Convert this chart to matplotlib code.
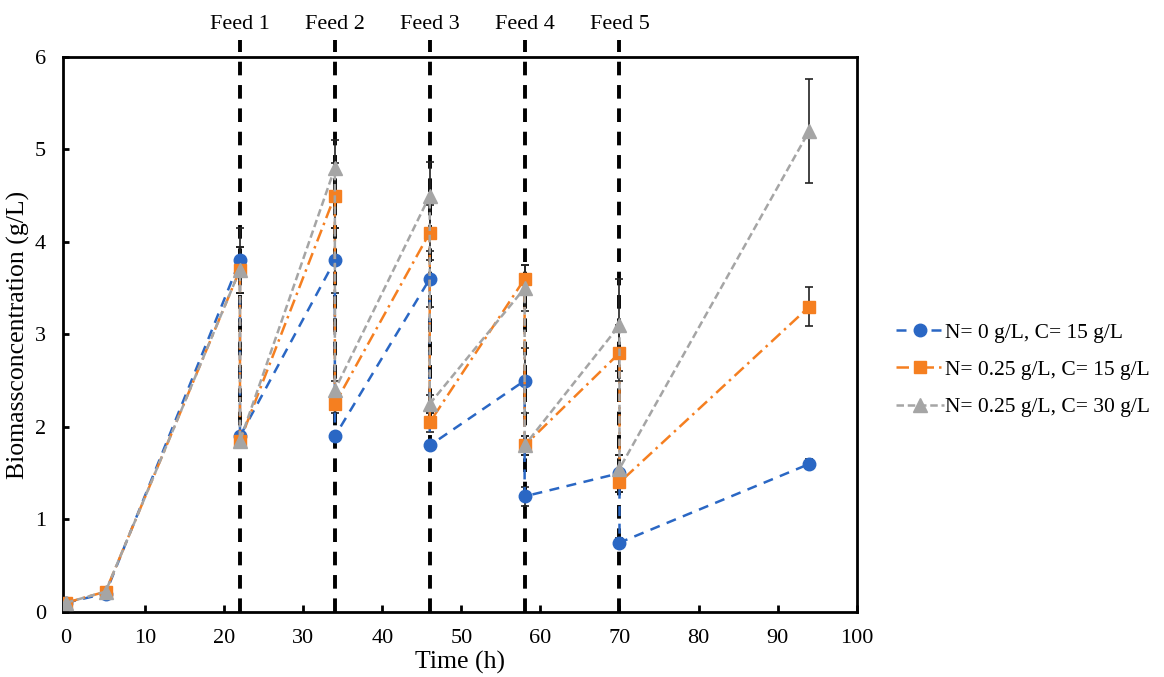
import matplotlib.pyplot as plt

plt.rcParams['font.family'] = ['Liberation Serif', 'DejaVu Serif']

time = [0, 5, 22, 22, 34, 34, 46, 46, 58, 58, 70, 70, 94]
feeds = [22, 34, 46, 58, 70]
feed_labels = ['Feed 1', 'Feed 2', 'Feed 3', 'Feed 4', 'Feed 5']

labels = ['N= 0 g/L, C= 15 g/L', 'N= 0.25 g/L, C= 15 g/L', 'N= 0.25 g/L, C= 30 g/L']
blue = [0.1, 0.2, 3.8, 1.9, 3.8, 1.9, 3.6, 1.8, 2.5, 1.25, 1.5, 0.75, 1.6]
orange = [0.1, 0.22, 3.7, 1.85, 4.5, 2.25, 4.1, 2.05, 3.6, 1.8, 2.8, 1.4, 3.3]
gray = [0.1, 0.22, 3.7, 1.85, 4.8, 2.4, 4.5, 2.25, 3.5, 1.8, 3.1, 1.55, 5.2]
blue_err = [0.02, 0.03, 0.35, 0.05, 0.35, 0.05, 0.3, 0.05, 0.35, 0.1, 0.2, 0.05, 0.05]
orange_err = [0.02, 0.03, 0.25, 0.05, 0.35, 0.1, 0.3, 0.1, 0.15, 0.1, 0.3, 0.1, 0.21]
gray_err = [0.02, 0.03, 0.25, 0.05, 0.3, 0.1, 0.36, 0.1, 0.25, 0.1, 0.5, 0.15, 0.56]

fig = plt.figure(figsize=(11.64, 6.77), dpi=100)
ax = fig.add_axes([0.054, 0.096, 0.682, 0.82])

for f, lab in zip(feeds, feed_labels):
    ax.plot([f, f], [0, 6.18], color='black', lw=2.8, ls=(0, (3.5, 2.5)), clip_on=False, zorder=1)
    ax.text(f, 6.35, lab, ha='center', va='center', fontsize=16)

styles = [
    (blue, blue_err, '#2a67c4', 'o', (0, (4, 3)), 9),
    (orange, orange_err, '#f57f20', 's', (0, (5, 2, 1, 2)), 9),
    (gray, gray_err, '#a5a5a5', '^', (0, (3, 1.5)), 10),
]
for (y, e, c, m, ls, ms), lab in zip(styles, labels):
    ax.errorbar(time, y, yerr=e, color=c, ecolor='#222222', elinewidth=1.2, capsize=3,
                capthick=1.2, marker=m, markersize=ms, linestyle=ls, lw=1.8, label=lab, zorder=3)

ax.set_xlim(-0.4, 100)
ax.set_ylim(0, 6)
ax.set_xticks(range(0, 101, 10))
ax.set_yticks(range(0, 7))
ax.tick_params(axis='x', direction='in', length=5, width=2, labelsize=16, pad=12)
ax.tick_params(axis='y', direction='in', length=4, width=2, labelsize=16, pad=12)
for s in ax.spines.values():
    s.set_linewidth(2)

ax.set_xlabel('Time (h)', fontsize=18.5, labelpad=2)
ax.set_ylabel('Biomassconcentration (g/L)', fontsize=18.5, labelpad=4)

handles, labs = ax.get_legend_handles_labels()
handles = [h[0] for h in handles]
ax.legend(handles, labs, loc='center left', bbox_to_anchor=(1.05, 0.436), frameon=False,
          fontsize=15.5, handlelength=2.2, labelspacing=0.8, handletextpad=0.05,
          borderaxespad=0, borderpad=0)

fig.savefig('out.png', dpi=100)
